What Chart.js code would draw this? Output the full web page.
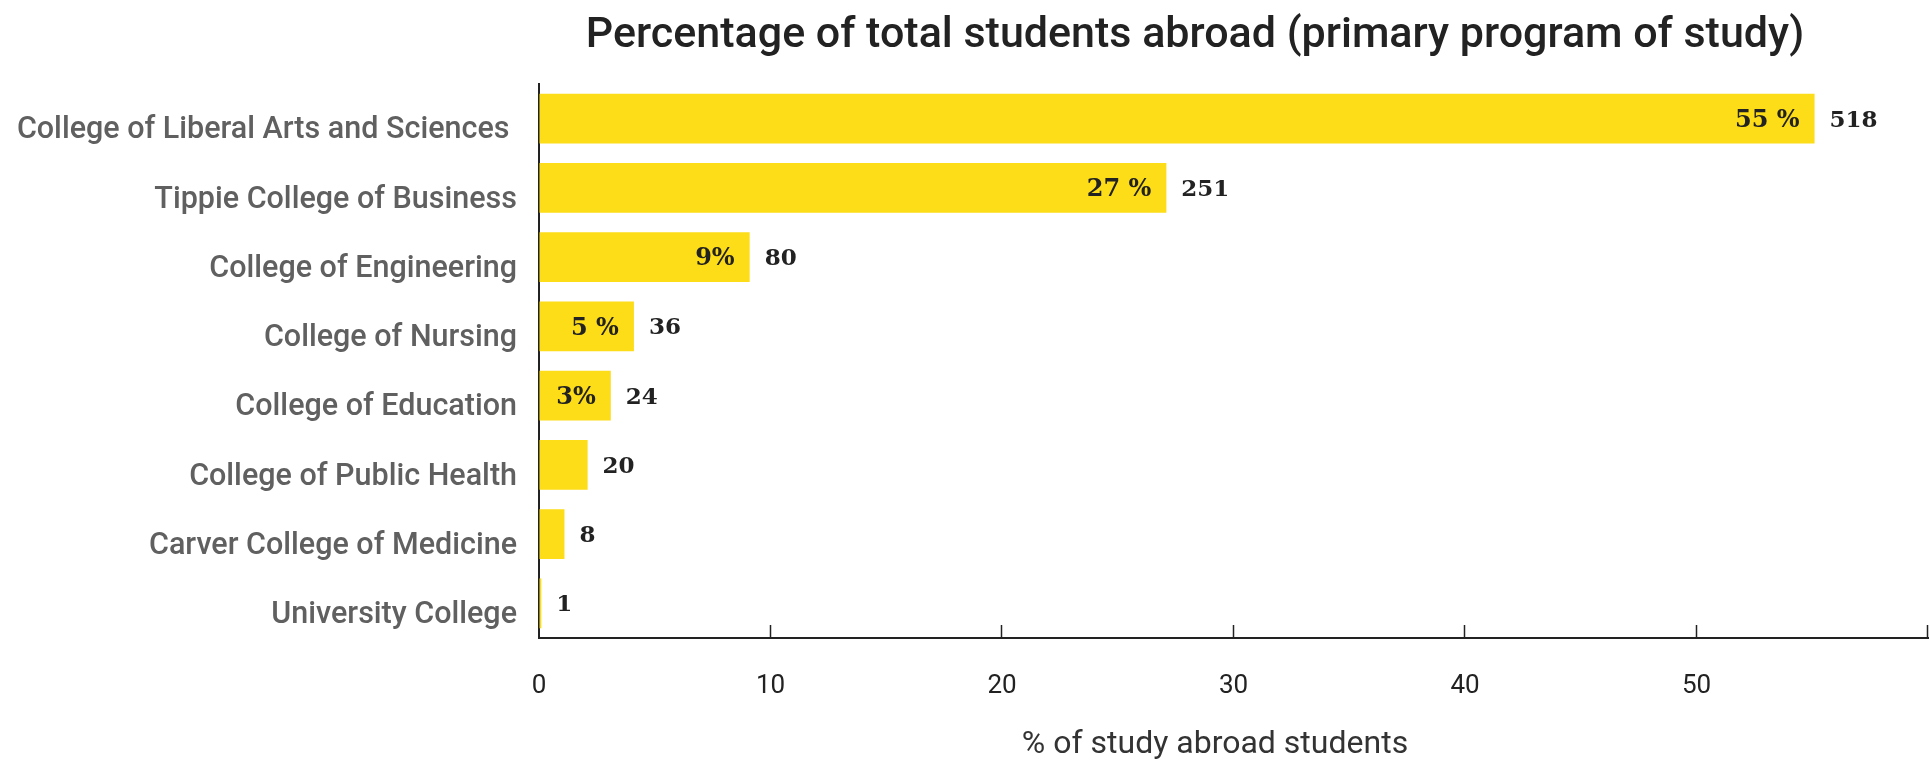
<!DOCTYPE html>
<html>
<head>
<meta charset="utf-8">
<script src="https://cdn.jsdelivr.net/npm/chart.js@4.4.1/dist/chart.umd.min.js"></script>
<style>
  html, body { margin: 0; padding: 0; background: #fff; overflow: hidden; }
  canvas { display: block; }
</style>
</head>
<body>
<canvas id="abroadChart" width="1930" height="770"></canvas>
<script>
// Datos del gráfico
const colleges = [
    "College of Liberal Arts and Sciences ",
    "Tippie College of Business",
    "College of Engineering",
    "College of Nursing",
    "College of Education",
    "College of Public Health",
    "Carver College of Medicine",
    "University College"
];
const pctValues = [55.1, 27.1, 9.1, 4.1, 3.1, 2.1, 1.1, 0.1];
const pctLabels = ["55 %", "27 %", "9%", "5 %", "3%", "", "", ""];
const studentCounts = [518, 251, 80, 36, 24, 20, 8, 1];
const xTicks = [0, 10, 20, 30, 40, 50];

const chartTitle = "Percentage of total students abroad (primary program of study)";
const xAxisTitle = "% of study abroad students";

// Títulos, marcas del eje x hacia dentro y etiquetas de las barras
const extrasPlugin = {
    id: "extras",
    afterDraw(chart) {
        const ctx = chart.ctx;
        const xScale = chart.scales.x;
        const area = chart.chartArea;

        ctx.save();
        ctx.textBaseline = "middle";
        ctx.textAlign = "center";

        // título
        ctx.fillStyle = "#222";
        ctx.font = "500 43px Roboto";
        ctx.fillText(chartTitle, 1195, 36);

        // título del eje x
        ctx.fillStyle = "#333";
        ctx.font = "32px Roboto";
        ctx.fillText(xAxisTitle, 1215, 745);

        // marcas del eje x
        ctx.strokeStyle = "#222";
        ctx.lineWidth = 1.5;
        xScale.ticks.forEach((t) => {
            if (t.value === 0) return;
            const px = Math.round(xScale.getPixelForValue(t.value)) - 0.5;
            ctx.beginPath();
            ctx.moveTo(px, area.bottom);
            ctx.lineTo(px, area.bottom - 13);
            ctx.stroke();
        });

        // etiquetas de las barras
        const meta = chart.getDatasetMeta(0);
        meta.data.forEach((bar, i) => {
            const y = bar.y + 2;
            if (pctLabels[i]) {
                ctx.font = "bold 24px 'DejaVu Serif'";
                ctx.textAlign = "right";
                ctx.fillStyle = "#222";
                ctx.fillText(pctLabels[i], bar.x - 15, y);
            }
            ctx.font = "bold 23px 'DejaVu Serif'";
            ctx.textAlign = "left";
            ctx.fillStyle = "#222";
            ctx.fillText(String(studentCounts[i]), bar.x + 15, y);
        });
        ctx.restore();
    }
};

const ctx = document.getElementById("abroadChart").getContext("2d");
new Chart(ctx, {
    type: "bar",
    data: {
        labels: colleges,
        datasets: [
            {
                label: xAxisTitle,
                data: pctValues,
                backgroundColor: "#FDDC18",
                barPercentage: 0.72,
                categoryPercentage: 1
            }
        ]
    },
    options: {
        indexAxis: "y",
        responsive: false,
        maintainAspectRatio: false,
        devicePixelRatio: 1,
        animation: false,
        layout: {
            padding: { top: 84, right: 2, bottom: 0, left: 0 }
        },
        plugins: {
            legend: { display: false },
            title: { display: false },
            tooltip: { enabled: false }
        },
        scales: {
            x: {
                min: 0,
                max: 60,
                afterFit(scale) {
                    scale.height = 132;
                    scale.paddingLeft = 0;
                    scale.paddingRight = 0;
                },
                afterBuildTicks(scale) {
                    scale.ticks = xTicks.concat([60]).map((v) => ({ value: v }));
                },
                ticks: {
                    color: "#222",
                    font: { family: "Roboto", size: 26 },
                    padding: 33,
                    callback: (v) => (xTicks.includes(v) ? String(v) : "")
                },
                grid: { drawOnChartArea: false, tickLength: 0 },
                border: { color: "#222", width: 2 }
            },
            y: {
                afterFit(scale) { scale.width = 539; },
                ticks: {
                    color: "#606060",
                    font: { family: "Roboto", size: 30.5, weight: "500" },
                    padding: 22,
                    labelOffset: 12
                },
                grid: { drawOnChartArea: false, tickLength: 0 },
                border: { color: "#222", width: 2 }
            }
        }
    },
    plugins: [extrasPlugin]
});
</script>
</body>
</html>
